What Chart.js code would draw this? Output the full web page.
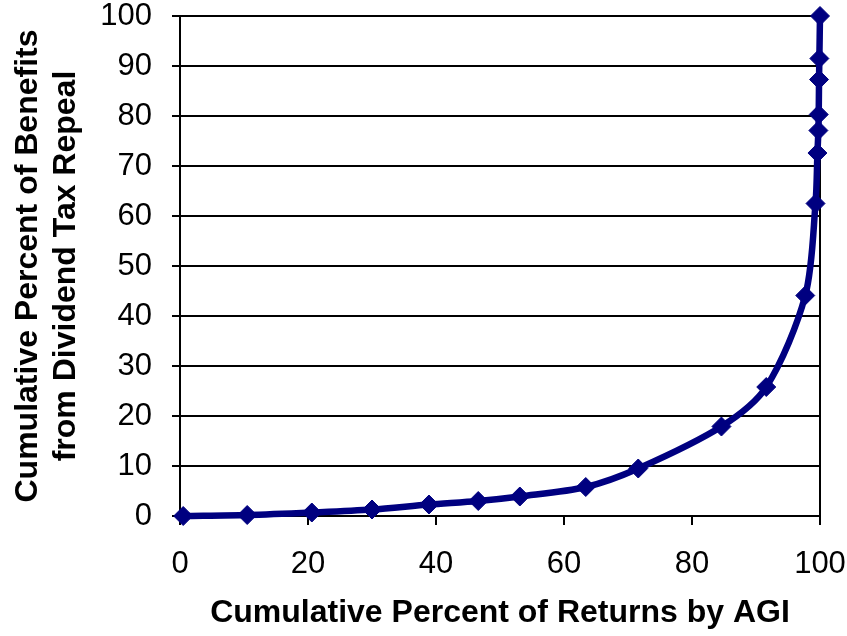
<!DOCTYPE html>
<html>
<head>
<meta charset="utf-8">
<script src="https://cdn.jsdelivr.net/npm/chart.js@4"></script>
<style>
  html, body { margin: 0; padding: 0; background: #fff; }
  #wrap { width: 847px; height: 636px; }
</style>
</head>
<body>
<div id="wrap"><canvas id="chart" width="847" height="636"></canvas></div>
<script>
// cumulative percent of returns (x) vs cumulative percent of benefits (y)
const returnsPct = [0.5, 10.5, 20.6, 30.0, 38.9, 46.6, 53.1, 63.4, 71.6, 84.6, 91.6, 97.7, 99.3, 99.6, 99.75, 99.8, 99.85, 99.9, 100];
const benefitsPct = [0, 0.2, 0.7, 1.3, 2.3, 3.0, 3.9, 5.8, 9.5, 17.9, 25.8, 44.1, 62.5, 72.6, 77.1, 80.3, 87.3, 91.5, 100];

const xTitle = 'Cumulative Percent of Returns by AGI';
const yTitle = ['Cumulative Percent of Benefits', 'from Dividend Tax Repeal'];

const navy = '#000080';
const fontFamily = '"Liberation Sans", Arial, sans-serif';

const points = returnsPct.map((x, i) => ({ x: x, y: benefitsPct[i] }));

new Chart(document.getElementById('chart'), {
    type: 'scatter',
    data: {
        datasets: [{
            data: points,
            showLine: true,
            borderColor: navy,
            backgroundColor: navy,
            borderWidth: 6.5,
            tension: 0.3,
            pointStyle: 'rectRot',
            pointRadius: 9.5,
            pointBorderWidth: 1,
            pointBorderColor: navy,
            pointBackgroundColor: navy,
            clip: false
        }]
    },
    options: {
        responsive: false,
        devicePixelRatio: 1,
        animation: false,
        layout: { padding: { top: 16, right: 27, bottom: 0, left: 0 } },
        plugins: { legend: { display: false }, tooltip: { enabled: false } },
        scales: {
            x: {
                type: 'linear',
                min: 0,
                max: 100,
                ticks: {
                    stepSize: 20,
                    color: '#000',
                    padding: 21,
                    maxRotation: 0,
                    font: { family: fontFamily, size: 31 }
                },
                grid: {
                    drawOnChartArea: false,
                    drawTicks: true,
                    tickLength: 9,
                    color: '#000',
                    lineWidth: 2
                },
                border: { color: '#000', width: 2 },
                title: {
                    display: true,
                    text: xTitle,
                    color: '#000',
                    padding: { top: 0, bottom: 4 },
                    font: { family: fontFamily, size: 32, weight: 'bold', lineHeight: 1.2 }
                },
                afterFit: scale => {
                    scale.height = 120;
                    scale.paddingLeft = 0;
                    scale.paddingRight = 0;
                }
            },
            y: {
                type: 'linear',
                position: 'left',
                min: 0,
                max: 100,
                ticks: {
                    stepSize: 10,
                    color: '#000',
                    padding: 20,
                    font: { family: fontFamily, size: 31, lineHeight: 1 }
                },
                grid: {
                    color: '#000',
                    lineWidth: 2,
                    tickLength: 8
                },
                border: { color: '#000', width: 2 },
                title: {
                    display: true,
                    text: yTitle,
                    color: '#000',
                    padding: { top: 9, bottom: 0 },
                    font: { family: fontFamily, size: 32, weight: 'bold', lineHeight: 1.2 }
                },
                afterFit: scale => {
                    scale.width = 180;
                    scale.paddingTop = 0;
                    scale.paddingBottom = 0;
                }
            },
            yRight: {
                type: 'linear',
                position: 'right',
                min: 0,
                max: 100,
                ticks: { display: false },
                grid: { drawOnChartArea: false, drawTicks: false },
                border: { color: '#000', width: 2 },
                afterFit: scale => {
                    scale.width = 0;
                    scale.paddingTop = 0;
                    scale.paddingBottom = 0;
                }
            }
        }
    }
});
</script>
</body>
</html>
